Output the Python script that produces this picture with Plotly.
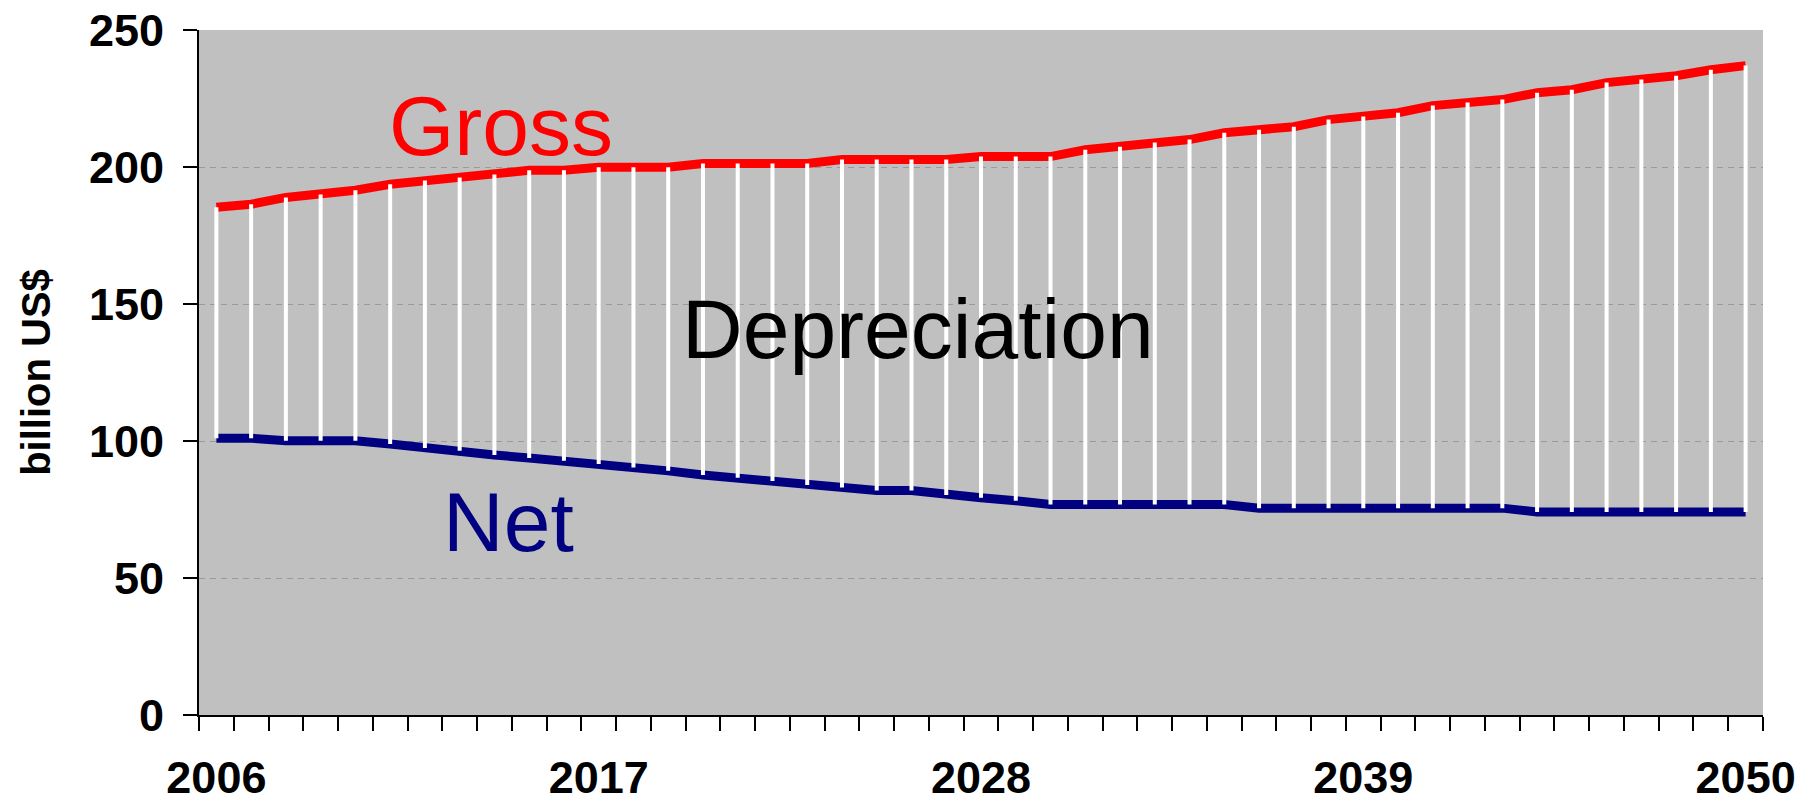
import plotly.graph_objects as go

# Annual investment, billion US$
years = list(range(2006, 2051))
gross = [185.3, 186.4, 188.9, 190.0, 191.5, 193.7, 195.1, 196.2, 197.3, 198.8,
         198.8, 199.9, 199.9, 199.9, 201.3, 201.3, 201.3, 201.3, 202.7, 202.7,
         202.7, 202.7, 203.8, 203.8, 203.8, 206.3, 207.4, 208.9, 210.0, 212.5,
         213.6, 214.7, 217.3, 218.4, 219.8, 222.4, 223.5, 224.6, 227.1, 228.2,
         230.8, 231.9, 233.3, 235.5, 237.0]
net = [101.0, 101.0, 100.1, 100.1, 100.1, 98.9, 97.4, 96.4, 94.9, 93.8,
       92.8, 91.6, 90.3, 89.1, 87.6, 86.6, 85.4, 83.9, 83.0, 81.9,
       81.9, 80.3, 79.3, 78.2, 76.8, 76.8, 76.8, 76.8, 76.8, 76.8,
       75.5, 75.5, 75.5, 75.5, 75.5, 75.5, 75.5, 75.5, 74.1, 74.1,
       74.1, 74.1, 74.1, 74.1, 74.1]
year_labels = [2006, 2017, 2028, 2039, 2050]

FONT = "Liberation Sans, Arial, sans-serif"

# High-low connectors between net and gross for every year
hl_x, hl_y = [], []
for yr, g, n in zip(years, gross, net):
    hl_x += [yr, yr, None]
    hl_y += [n, g, None]

fig = go.Figure()
fig.add_trace(go.Scatter(x=years, y=gross, mode="lines", name="Gross",
                         line=dict(color="#FF0000", width=9)))
fig.add_trace(go.Scatter(x=years, y=net, mode="lines", name="Net",
                         line=dict(color="#000080", width=9)))
fig.add_trace(go.Scatter(x=hl_x, y=hl_y, mode="lines", name="Depreciation",
                         line=dict(color="white", width=4),
                         connectgaps=False))

# Category boundaries for the small tick marks
boundaries = [yr - 0.5 for yr in years] + [years[-1] + 0.5]

fig.update_layout(
    width=1814, height=805,
    margin=dict(l=199, r=51, t=30, b=90),
    paper_bgcolor="white",
    plot_bgcolor="#C0C0C0",
    showlegend=False,
    font=dict(family=FONT, color="black"),
    xaxis=dict(
        range=[years[0] - 0.5, years[-1] + 0.5],
        tickmode="array", tickvals=year_labels,
        ticktext=[str(v) for v in year_labels],
        ticks="", showgrid=False, zeroline=False,
        tickfont=dict(family=FONT, size=45, weight=700, color="black"),
        ticklabelstandoff=22,
        automargin=False,
        showline=True, linecolor="black", linewidth=2,
        minor=dict(tickmode="array", tickvals=boundaries, ticks="outside",
                   ticklen=14, tickwidth=1.5, tickcolor="black",
                   showgrid=False),
    ),
    yaxis=dict(
        range=[0, 250], tickmode="linear", tick0=0, dtick=50,
        ticks="outside", ticklen=14, tickwidth=1.5, tickcolor="black",
        showgrid=True, gridcolor="#9a9a9a", gridwidth=1, griddash="6px,5px",
        zeroline=False,
        showline=True, linecolor="black", linewidth=2,
        tickfont=dict(family=FONT, size=45, weight=700, color="black"),
        ticklabelstandoff=10,
        automargin=False,
        title=dict(text="billion US$", standoff=26,
                   font=dict(family=FONT, size=40, weight=700, color="black")),
    ),
    annotations=[
        dict(x=2014.2, y=214.8, xref="x", yref="y", text="Gross",
             showarrow=False, xanchor="center", yanchor="middle",
             font=dict(family=FONT, size=84, color="#FF0000")),
        dict(x=2026.2, y=141.0, xref="x", yref="y", text="Depreciation",
             showarrow=False, xanchor="center", yanchor="middle",
             font=dict(family=FONT, size=84, color="black")),
        dict(x=2014.4, y=70.6, xref="x", yref="y", text="Net",
             showarrow=False, xanchor="center", yanchor="middle",
             font=dict(family=FONT, size=84, color="#000080")),
    ],
)

fig.write_html("out.html")
